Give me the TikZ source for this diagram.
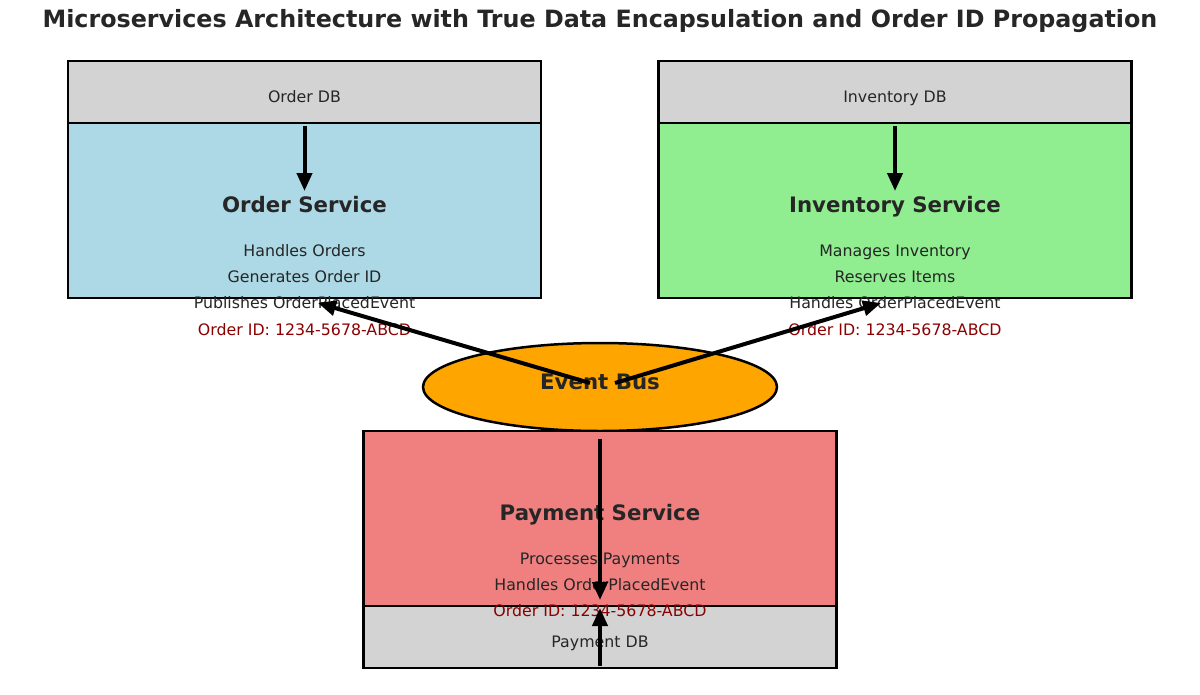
\documentclass[tikz,border=0pt]{standalone}
\usepackage{fontspec}
\setmainfont{DejaVu Sans}
\usepackage{xcolor}
\usetikzlibrary{shapes,arrows,positioning,calc,arrows.meta}

\definecolor{dbgray}{HTML}{D3D3D3}
\definecolor{orderblue}{HTML}{ADD8E6}
\definecolor{invgreen}{HTML}{90EE90}
\definecolor{payred}{HTML}{F08080}
\definecolor{busorange}{HTML}{FFA500}
\definecolor{idred}{HTML}{8B0000}
\definecolor{txtgray}{HTML}{262626}

\tikzset{
    dbbox/.style={draw, line width=2.5pt, fill=dbgray, minimum width=473pt, minimum height=62pt, inner sep=0pt},
    svcbox/.style={draw, line width=2.5pt, minimum width=473pt, minimum height=175pt, inner sep=0pt},
    svctitle/.style={anchor=base, inner sep=0pt, text=txtgray, font=\fontsize{21.3}{25}\selectfont\bfseries},
    svcline/.style={anchor=base, inner sep=0pt, text=txtgray, font=\fontsize{15.8}{19}\selectfont},
    idline/.style={anchor=base, inner sep=0pt, text=idred, font=\fontsize{15.8}{19}\selectfont},
    flow/.style={line width=4pt, -{Triangle[width=15pt,length=18pt]}}
}

\begin{document}
\begin{tikzpicture}[x=1pt,y=-1pt]
    \useasboundingbox (0,0) rectangle (1200,694);

    % Title
    \node [anchor=base, inner sep=0pt, text=txtgray, font=\fontsize{23.8}{28}\selectfont\bfseries] (title) at (600,27.5)
        {Microservices Architecture with True Data Encapsulation and Order ID Propagation};

    % Order Service
    \node [dbbox] (orderdb) at (304.5,92) {};
    \node [svcbox, fill=orderblue] (ordersvc) at (304.5,210.5) {};
    \node [svcline] at (304.5,102.8) {Order DB};
    \node [svctitle] (ordertitle) at (304.5,212.6) {Order Service};
    \node [svcline] at (304.5,256.8) {Handles Orders};
    \node [svcline] at (304.5,282.8) {Generates Order ID};
    \node [svcline] (orderpub) at (304.5,308.8) {Publishes OrderPlacedEvent};
    \node [idline] at (304.5,335.8) {Order ID: 1234-5678-ABCD};

    % Inventory Service
    \node [dbbox] (invdb) at (895,92) {};
    \node [svcbox, fill=invgreen] (invsvc) at (895,210.5) {};
    \node [svcline] at (895,102.8) {Inventory DB};
    \node [svctitle] (invtitle) at (895,212.6) {Inventory Service};
    \node [svcline] at (895,256.8) {Manages Inventory};
    \node [svcline] at (895,282.8) {Reserves Items};
    \node [svcline] (invhandle) at (895,308.8) {Handles OrderPlacedEvent};
    \node [idline] at (895,335.8) {Order ID: 1234-5678-ABCD};

    % Event Bus
    \node [draw, line width=2.5pt, fill=busorange, ellipse, minimum width=354pt, minimum height=88pt, inner sep=0pt] (bus) at (600,387) {};
    \node [svctitle] (bustitle) at (600,389.6) {Event Bus};

    % Payment Service
    \node [svcbox, fill=payred] (paysvc) at (600,518.5) {};
    \node [dbbox] (paydb) at (600,637) {};
    \node [svctitle] (paytitle) at (600,520.6) {Payment Service};
    \node [svcline] at (600,564.8) {Processes Payments};
    \node [svcline] at (600,590.8) {Handles OrderPlacedEvent};
    \node [idline] at (600,616.8) {Order ID: 1234-5678-ABCD};
    \node [svcline] at (600,647.8) {Payment DB};

    % Arrow ends
    \coordinate (orderin) at (304.5,191);
    \coordinate (invin) at (895,191);
    \coordinate (busleft) at (590,383);
    \coordinate (busright) at (615,383);
    \coordinate (orderout) at (318,303);
    \coordinate (invout) at (881,303);
    \coordinate (bustop) at (600,439);
    \coordinate (paydown) at (600,600);
    \coordinate (paybottom) at (600,666);
    \coordinate (payup) at (600,608);

    % Connectors
    \draw [flow] (orderdb.south) ++(0,2) -- (orderin);
    \draw [flow] (invdb.south) ++(0,2) -- (invin);
    \draw [flow] (busleft) -- (orderout);
    \draw [flow] (busright) -- (invout);
    \draw [flow] (bustop) -- (paydown);
    \draw [flow] (paybottom) -- (payup);
\end{tikzpicture}
\end{document}
